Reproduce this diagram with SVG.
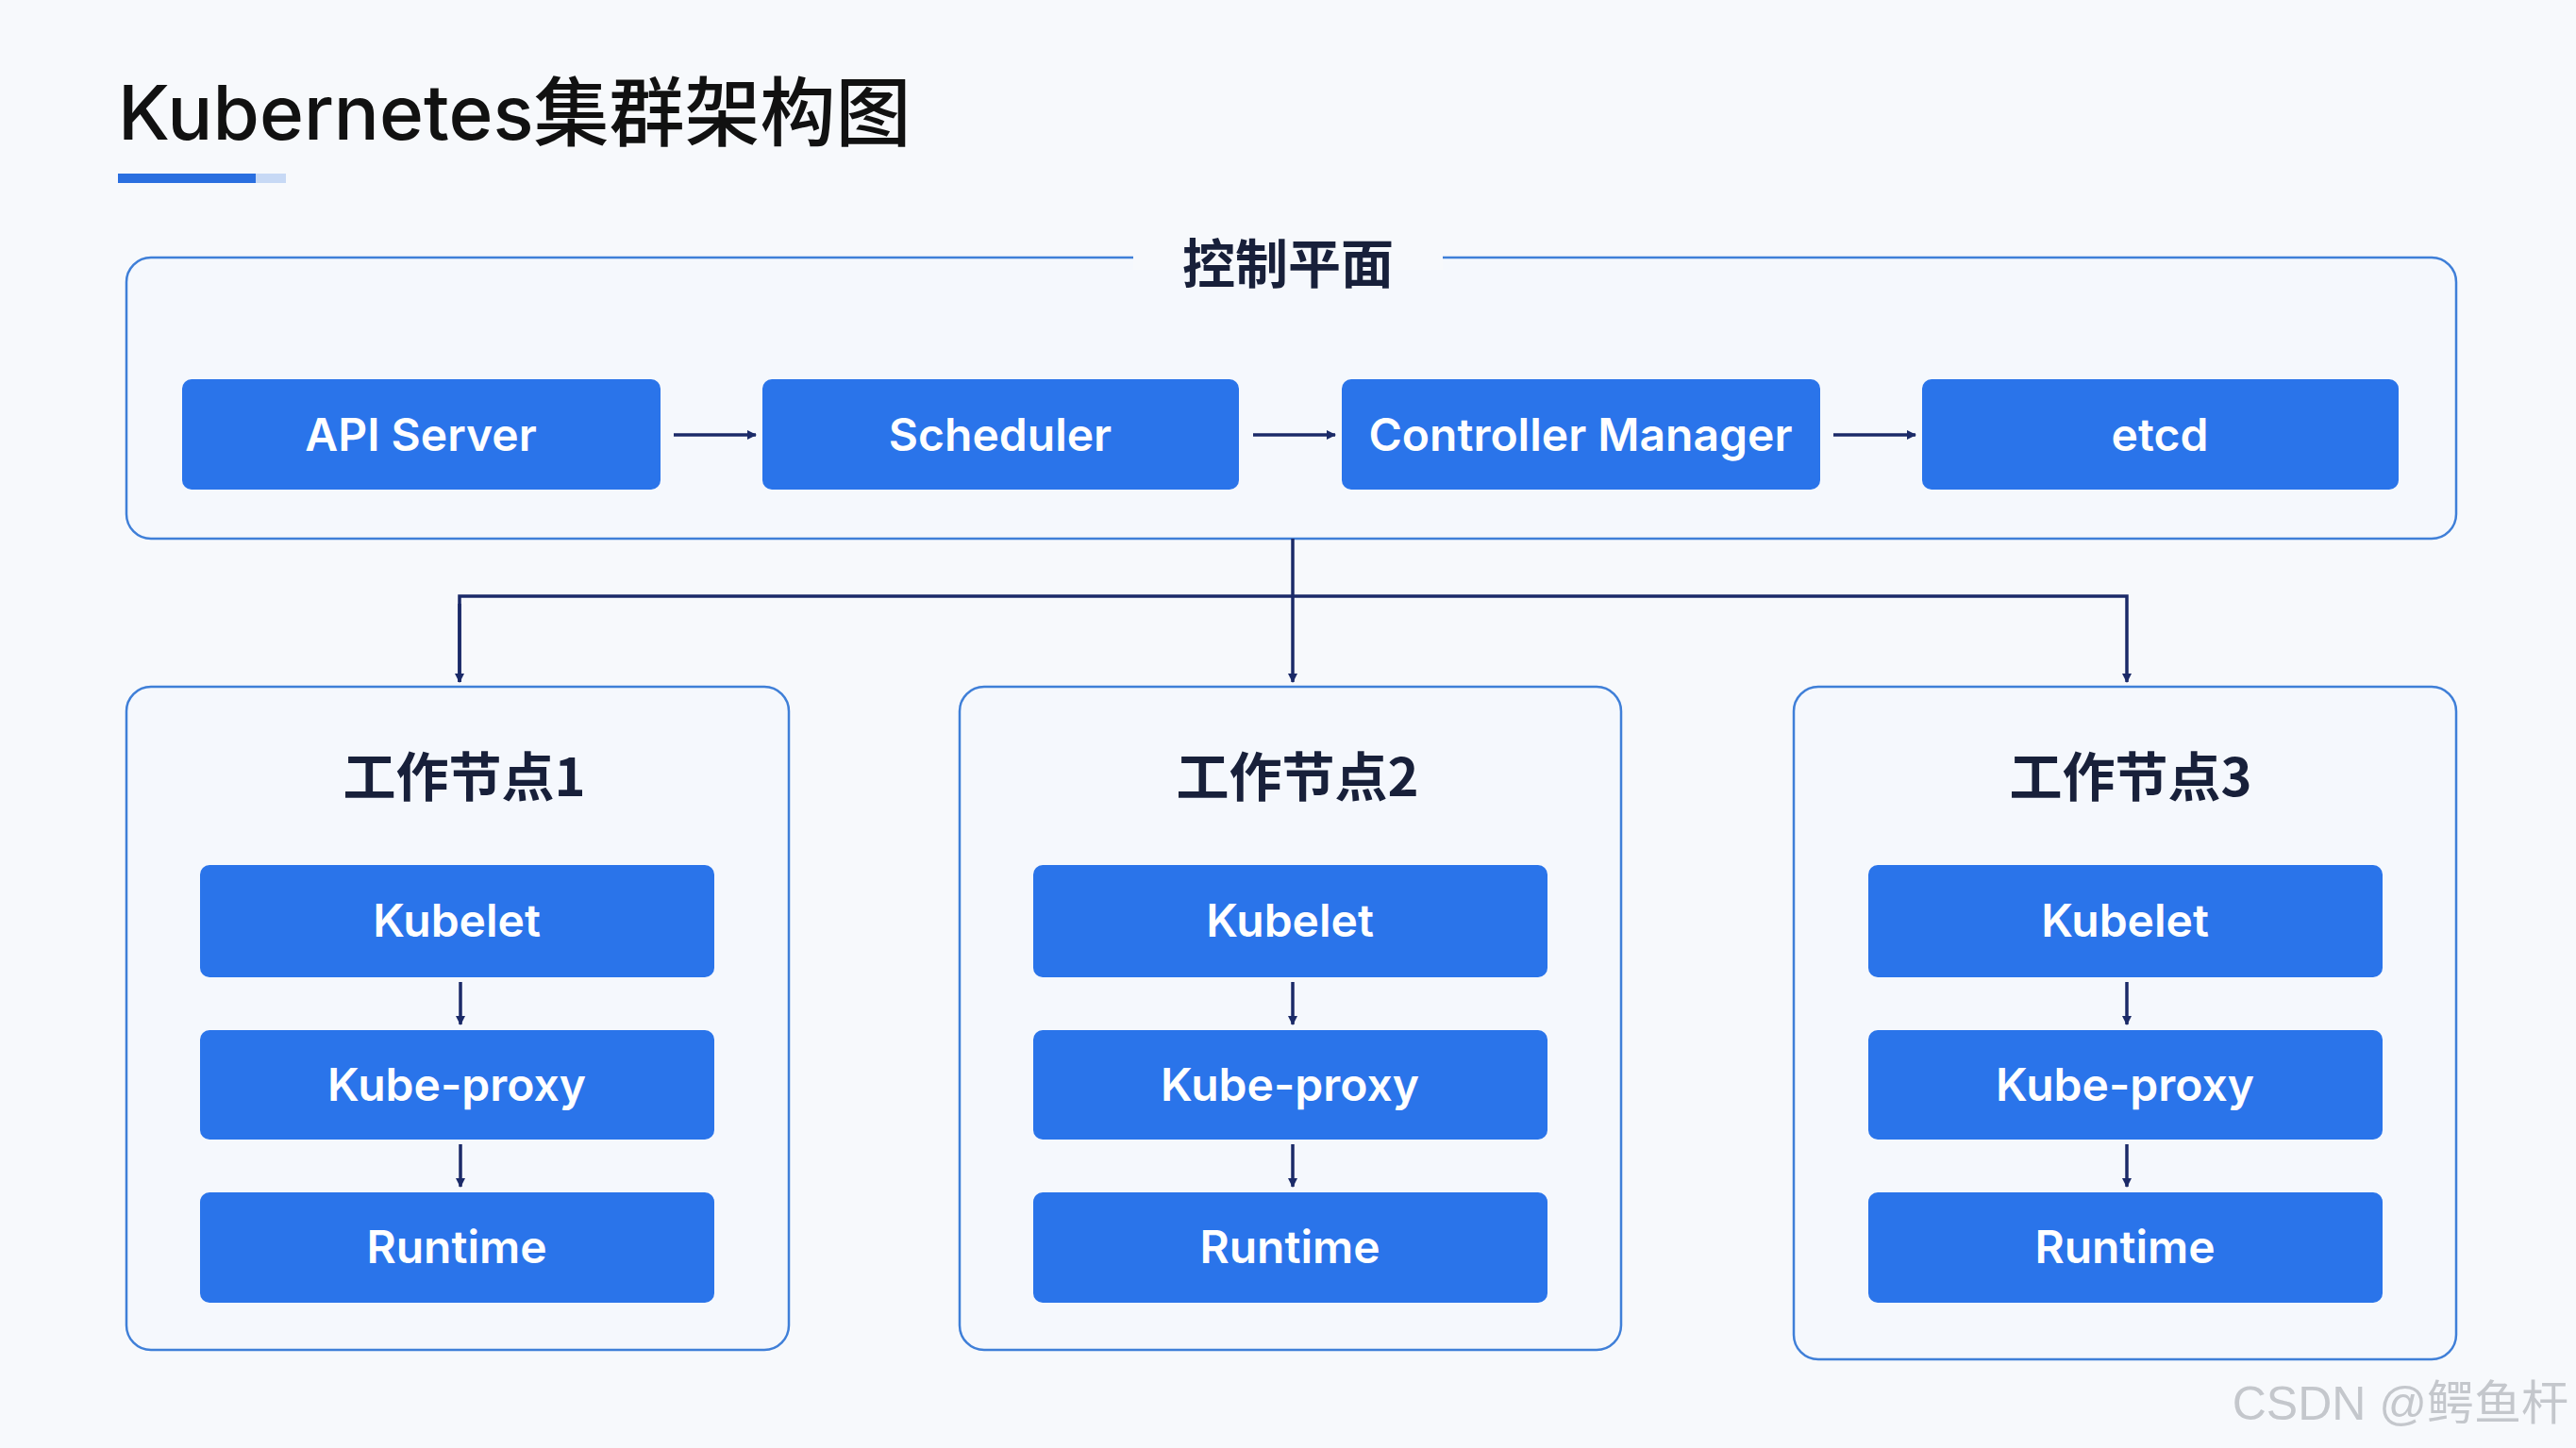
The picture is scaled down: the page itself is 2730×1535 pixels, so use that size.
<svg xmlns="http://www.w3.org/2000/svg" width="2730" height="1535" viewBox="0 0 2730 1535">
<defs>
<marker id="ah" markerWidth="10" markerHeight="10" refX="9" refY="5" orient="auto" markerUnits="userSpaceOnUse" viewBox="0 0 10 10"><path d="M0,0 L10,5 L0,10 z" fill="#1b2a68"/></marker>
<style>
.box{fill:#2a74ea;}
.bt{font-family:"Inter","Liberation Sans",sans-serif;font-size:48px;font-weight:600;fill:#fff;text-anchor:middle;}
.panel{fill:#f5f8fd;stroke:#3f7fd8;stroke-width:2.5;}
.ht{font-family:"Noto Sans CJK SC","Noto Sans",sans-serif;font-size:56px;font-weight:700;fill:#18203a;text-anchor:middle;}
.ln{stroke:#1b2a68;stroke-width:3.5;fill:none;}
</style>
</defs>
<rect width="2730" height="1535" fill="#f7f9fc"/>
<text x="125" y="148" font-family="Inter,'Noto Sans CJK SC',sans-serif" font-size="80" font-weight="500" fill="#111">Kubernetes集群架构图</text>
<rect x="125" y="184" width="146" height="10" fill="#2a6fe0"/>
<rect x="271" y="184" width="32" height="10" fill="#c7d9f5"/>

<g id="control-plane">
<rect class="panel" x="134" y="273" width="2469" height="298" rx="26"/>
<rect x="1201" y="262" width="328" height="24" fill="#f7f9fc"/>
<text class="ht" x="1365" y="300">控制平面</text>
</g>
<g id="api-server"><rect class="box" x="193" y="402" width="507" height="117" rx="10"/><text class="bt" x="446" y="478">API Server</text></g>
<g id="scheduler"><rect class="box" x="808" y="402" width="505" height="117" rx="10"/><text class="bt" x="1060" y="478">Scheduler</text></g>
<g id="controller-manager"><rect class="box" x="1422" y="402" width="507" height="117" rx="10"/><text class="bt" x="1675" y="478">Controller Manager</text></g>
<g id="etcd"><rect class="box" x="2037" y="402" width="505" height="117" rx="10"/><text class="bt" x="2289" y="478">etcd</text></g>

<g id="worker1">
<rect class="panel" x="134" y="728" width="702" height="703" rx="26"/>
<text class="ht" x="492" y="844">工作节点1</text>
<rect class="box" x="212" y="917" width="545" height="119" rx="10"/><text class="bt" x="484" y="993">Kubelet</text>
<rect class="box" x="212" y="1092" width="545" height="116" rx="10"/><text class="bt" x="484" y="1167">Kube-proxy</text>
<rect class="box" x="212" y="1264" width="545" height="117" rx="10"/><text class="bt" x="484" y="1339">Runtime</text>
</g>
<g id="worker2">
<rect class="panel" x="1017" y="728" width="701" height="703" rx="26"/>
<text class="ht" x="1375" y="844">工作节点2</text>
<rect class="box" x="1095" y="917" width="545" height="119" rx="10"/><text class="bt" x="1367" y="993">Kubelet</text>
<rect class="box" x="1095" y="1092" width="545" height="116" rx="10"/><text class="bt" x="1367" y="1167">Kube-proxy</text>
<rect class="box" x="1095" y="1264" width="545" height="117" rx="10"/><text class="bt" x="1367" y="1339">Runtime</text>
</g>
<g id="worker3">
<rect class="panel" x="1901" y="728" width="702" height="713" rx="26"/>
<text class="ht" x="2258" y="844">工作节点3</text>
<rect class="box" x="1980" y="917" width="545" height="119" rx="10"/><text class="bt" x="2252" y="993">Kubelet</text>
<rect class="box" x="1980" y="1092" width="545" height="116" rx="10"/><text class="bt" x="2252" y="1167">Kube-proxy</text>
<rect class="box" x="1980" y="1264" width="545" height="117" rx="10"/><text class="bt" x="2252" y="1339">Runtime</text>
</g>

<g id="connectors">
<line class="ln" x1="714" y1="461" x2="801" y2="461" marker-end="url(#ah)"/>
<line class="ln" x1="1328" y1="461" x2="1415" y2="461" marker-end="url(#ah)"/>
<line class="ln" x1="1943" y1="461" x2="2030" y2="461" marker-end="url(#ah)"/>
<polyline class="ln" points="1370,571 1370,632"/>
<polyline class="ln" points="487,723 487,632 2254,632 2254,723" marker-end="url(#ah)"/>
<line class="ln" x1="487" y1="640" x2="487" y2="723" marker-end="url(#ah)"/>
<line class="ln" x1="1370" y1="632" x2="1370" y2="723" marker-end="url(#ah)"/>
<line class="ln" x1="488" y1="1041" x2="488" y2="1086" marker-end="url(#ah)"/>
<line class="ln" x1="488" y1="1213" x2="488" y2="1258" marker-end="url(#ah)"/>
<line class="ln" x1="1370" y1="1041" x2="1370" y2="1086" marker-end="url(#ah)"/>
<line class="ln" x1="1370" y1="1213" x2="1370" y2="1258" marker-end="url(#ah)"/>
<line class="ln" x1="2254" y1="1041" x2="2254" y2="1086" marker-end="url(#ah)"/>
<line class="ln" x1="2254" y1="1213" x2="2254" y2="1258" marker-end="url(#ah)"/>
</g>
<text x="2722" y="1505" text-anchor="end" font-family="'Liberation Sans','Noto Sans CJK SC',sans-serif" font-size="50" fill="#c4c7cc">CSDN @鳄鱼杆</text>
</svg>
